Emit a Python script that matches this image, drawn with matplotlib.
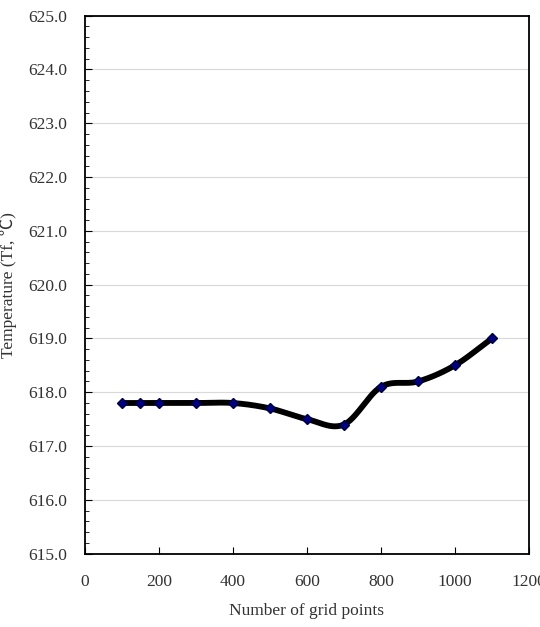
import numpy as np
import matplotlib.pyplot as plt
from matplotlib.ticker import MultipleLocator

grid_points = [100, 150, 200, 300, 400, 500, 600, 700, 800, 900, 1000, 1100]
temperature = [617.8, 617.8, 617.8, 617.8, 617.8, 617.7, 617.5, 617.4, 618.1, 618.2, 618.5, 619.0]

plt.rcParams['font.family'] = ['Liberation Serif', 'Noto Sans CJK JP', 'DejaVu Sans']


def smooth(x, y, n=30):
    # Excel-like smoothed line (Catmull-Rom through the points)
    x = np.asarray(x, float)
    y = np.asarray(y, float)
    px = np.concatenate([[2 * x[0] - x[1]], x, [2 * x[-1] - x[-2]]])
    py = np.concatenate([[2 * y[0] - y[1]], y, [2 * y[-1] - y[-2]]])
    xs, ys = [], []
    t = np.linspace(0, 1, n)
    for i in range(1, len(px) - 2):
        for p, out in ((px, xs), (py, ys)):
            p0, p1, p2, p3 = p[i - 1], p[i], p[i + 1], p[i + 2]
            out.extend(0.5 * (2 * p1 + (-p0 + p2) * t
                              + (2 * p0 - 5 * p1 + 4 * p2 - p3) * t ** 2
                              + (-p0 + 3 * p1 - 3 * p2 + p3) * t ** 3))
    return xs, ys


fig = plt.figure(figsize=(5.4, 6.27), dpi=100)
ax = fig.add_axes([0.1574, 0.117, 0.822, 0.858])

sx, sy = smooth(grid_points, temperature)
ax.plot(sx, sy, color='black', lw=4.2, solid_capstyle='round', zorder=3)
ax.plot(grid_points, temperature, linestyle='none', marker='D', markersize=5,
        markerfacecolor='#000080', markeredgecolor='#000040', zorder=4)

ax.set_xlim(0, 1200)
ax.set_ylim(615, 625)
ax.xaxis.set_major_locator(MultipleLocator(200))
ax.yaxis.set_major_locator(MultipleLocator(1))
ax.yaxis.set_minor_locator(MultipleLocator(0.2))
ax.yaxis.set_major_formatter(plt.FormatStrFormatter('%.1f'))
ax.grid(axis='y', which='major', color='#d9d9d9', lw=0.8)
ax.set_axisbelow(True)

ax.tick_params(axis='both', which='both', direction='in', colors='black',
               labelcolor='#333333', labelsize=12.5)
ax.tick_params(axis='x', pad=15)
ax.tick_params(axis='y', pad=13)
ax.tick_params(which='major', length=5)
ax.tick_params(which='minor', length=3)
for s in ax.spines.values():
    s.set_linewidth(1.3)

ax.set_xlabel('Number of grid points', fontsize=12.5, color='#333333', labelpad=9)
ax.set_ylabel('Temperature (Tf, \u2103)', fontsize=12.5, color='#333333', labelpad=8)

fig.savefig('out.png', dpi=100)
